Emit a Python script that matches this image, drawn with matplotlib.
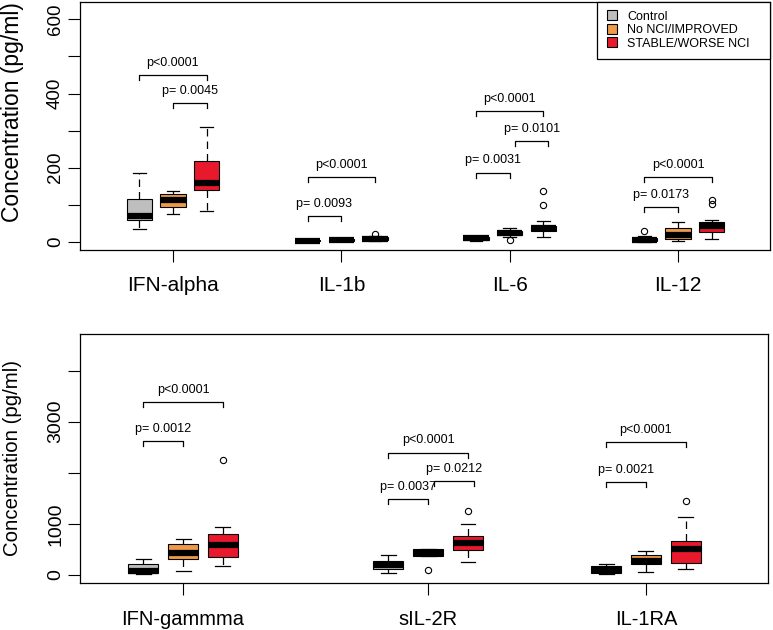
import matplotlib
matplotlib.use("Agg")
import matplotlib.pyplot as plt
from matplotlib.lines import Line2D

plt.rcParams['font.family'] = ['Liberation Sans', 'DejaVu Sans']

# ---------------- data ----------------
series_names = ["Control", "No NCI/IMPROVED", "STABLE/WORSE NCI"]
series_colors = ["#BEBEBE", "#EE9A49", "#E8192C"]

# box stats: (whislo, q1, median, q3, whishi)
top_categories = ["IFN-alpha", "IL-1b", "IL-6", "IL-12"]
top_control = [(35, 58, 69, 116, 185), (0, 1, 3, 5, 7), (3, 6, 10, 14, 17), (0, 2, 5, 10, 16)]
top_control_out = [[], [], [], [29]]
top_improved = [(76, 93, 114, 130, 137), (1, 3, 6, 8, 10), (12, 18, 24, 29, 36), (3, 9, 18, 37, 54)]
top_improved_out = [[], [], [5], []]
top_worse = [(84, 141, 159, 217, 311), (2, 5, 9, 12, 15), (13, 29, 36, 43, 57), (7, 27, 42, 54, 60)]
top_worse_out = [[], [22], [99, 137], [102, 114]]

bottom_categories = ["IFN-gammma", "sIL-2R", "IL-1RA"]
bottom_control = [(15, 35, 80, 220, 310), (45, 110, 190, 280, 390), (20, 40, 100, 180, 210)]
bottom_control_out = [[], [], []]
bottom_improved = [(80, 320, 440, 615, 710), (370, 380, 440, 500, 510), (65, 215, 265, 385, 476)]
bottom_improved_out = [[], [100], []]
bottom_worse = [(176, 358, 587, 796, 933), (261, 489, 633, 770, 992), (117, 241, 503, 671, 1129)]
bottom_worse_out = [[2260], [1250], [1454]]

# significance brackets: (category index, series a, series b, y, label)
top_brackets = [
    (0, 0, 2, 450, "p<0.0001"),
    (0, 1, 2, 375, "p= 0.0045"),
    (1, 0, 2, 174, "p<0.0001"),
    (1, 0, 1, 69, "p= 0.0093"),
    (2, 0, 2, 352, "p<0.0001"),
    (2, 1, 2, 272, "p= 0.0101"),
    (2, 0, 1, 187, "p= 0.0031"),
    (3, 0, 2, 174, "p<0.0001"),
    (3, 0, 1, 94, "p= 0.0173"),
]
bottom_brackets = [
    (0, 0, 2, 3380, "p<0.0001"),
    (0, 0, 1, 2622, "p= 0.0012"),
    (1, 0, 2, 2393, "p<0.0001"),
    (1, 1, 2, 1845, "p= 0.0212"),
    (1, 0, 1, 1481, "p= 0.0037"),
    (2, 0, 2, 2597, "p<0.0001"),
    (2, 0, 1, 1814, "p= 0.0021"),
]

top_yticks = [0, 100, 200, 300, 400, 500, 600]
top_yticklabels = ["0", "", "200", "", "400", "", "600"]
bottom_yticks = [0, 1000, 2000, 3000, 4000]
bottom_yticklabels = ["0", "1000", "", "3000", ""]

ylabel = "Concentration (pg/ml)"

# ---------------- figure ----------------
W, H = 773, 630
fig = plt.figure(figsize=(W / 100, H / 100), dpi=100)
ax1 = fig.add_axes([80 / W, 1 - 250 / H, 690 / W, 248 / H])
ax2 = fig.add_axes([80 / W, 1 - 583.3 / H, 688 / W, 249 / H])


def draw_panel(ax, centers, categories, series_stats, series_out, brackets,
               drop, shifts, fs_ticks, xpad):
    for s, (stats_list, outs) in enumerate(zip(series_stats, series_out)):
        stats = []
        pos = []
        for i, (st, fl) in enumerate(zip(stats_list, outs)):
            wl, q1, med, q3, wh = st
            stats.append(dict(whislo=wl, q1=q1, med=med, q3=q3, whishi=wh, fliers=fl))
            pos.append(centers[i] + (s - 1))
        ax.bxp(stats, positions=pos, widths=0.75, capwidths=0.375,
               patch_artist=True, manage_ticks=False,
               boxprops=dict(facecolor=series_colors[s], edgecolor="black", linewidth=0.8),
               medianprops=dict(color="black", linewidth=4.5, solid_capstyle="butt"),
               whiskerprops=dict(color="black", linewidth=0.9, linestyle=(0, (6, 4))),
               capprops=dict(color="black", linewidth=0.9),
               flierprops=dict(marker="o", markerfacecolor="none", markeredgecolor="black",
                               markersize=4.5, markeredgewidth=0.8, linestyle="none"))
    for (ci, a, b, y, lab) in brackets:
        sh = shifts.get((ci, a, b), 0.0)
        xa = centers[ci] + (a - 1) + sh
        xb = centers[ci] + (b - 1) + sh
        ax.plot([xa, xa, xb, xb], [y - drop, y, y, y - drop], color="black", linewidth=0.9)
        ax.annotate(lab, xy=((xa + xb) / 2, y), xytext=(0, 8.8), textcoords="offset points",
                    ha="center", va="center", fontsize=9)
    ax.set_xticks(centers)
    ax.set_xticklabels(categories, fontsize=fs_ticks)
    for sp in ax.spines.values():
        sp.set_linewidth(0.9)
    ax.tick_params(axis="both", direction="out", length=8.5, width=0.8)
    ax.tick_params(axis="x", pad=xpad)
    ax.tick_params(axis="y", pad=3)


top_centers = [2 + 5 * i for i in range(len(top_categories))]
draw_panel(ax1, top_centers, top_categories,
           [top_control, top_improved, top_worse],
           [top_control_out, top_improved_out, top_worse_out],
           top_brackets, 13.5, {(2, 1, 2): 0.15}, 15, 10)
ax1.set_xlim(-0.76, 19.73)
ax1.set_ylim(-22, 647)
ax1.set_yticks(top_yticks)
ax1.set_yticklabels(top_yticklabels, rotation=90, va="center", fontsize=13.5)

bottom_centers = [2, 8.16, 13.63]
draw_panel(ax2, bottom_centers, bottom_categories,
           [bottom_control, bottom_improved, bottom_worse],
           [bottom_control_out, bottom_improved_out, bottom_worse_out],
           bottom_brackets, 98, {(1, 1, 2): 0.15}, 14.5, 10.5)
ax2.set_xlim(-0.59, 16.70)
ax2.set_ylim(-162, 4710)
ax2.set_yticks(bottom_yticks)
ax2.set_yticklabels(bottom_yticklabels, rotation=90, va="center", fontsize=14)

fig.text(13 / W, 1 - 112 / H, ylabel, rotation=90, ha="center", va="center", fontsize=16.5)
fig.text(13 / W, 1 - 458.5 / H, ylabel, rotation=90, ha="center", va="center", fontsize=14.7)

handles = [Line2D([], [], marker="s", linestyle="none", markerfacecolor=c,
                  markeredgecolor="black", markersize=6.5, markeredgewidth=0.8)
           for c in series_colors]
x0 = (596.7 - 80) / 690
leg = ax1.legend(handles, series_names, loc="upper right", borderaxespad=0,
                 bbox_to_anchor=(x0, 0, 1 - x0, 1), mode="expand",
                 fontsize=9, fancybox=False, edgecolor="black", framealpha=1,
                 borderpad=0.7, handlelength=1.0, handletextpad=0.75, labelspacing=0.12)
leg.get_frame().set_linewidth(0.9)

fig.savefig("out.png", dpi=100)
